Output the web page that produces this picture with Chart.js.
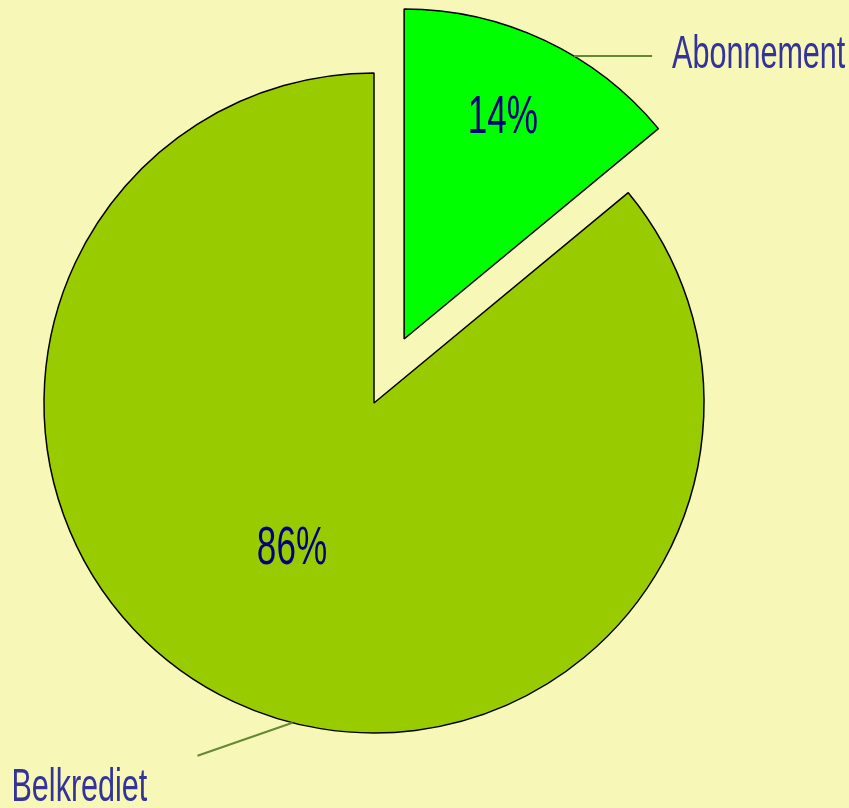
<!DOCTYPE html>
<html><head><meta charset="utf-8">
<style>html,body{margin:0;padding:0;background:#f7f7b8;overflow:hidden}canvas{display:block}</style>
<script src="https://cdn.jsdelivr.net/npm/chart.js@4"></script>
</head><body>
<canvas id="c" width="849" height="808"></canvas>
<script>
// ---- data ----
const categories = ['Abonnement', 'Belkrediet'];
const values = [14, 86];
const sliceColors = ['#00ff00', '#99cc00'];
const explode = [283, 0];

const DEG = Math.PI / 180;
const OFFSET_DIV = 4; // Chart.js v4 arc translates by offset/4
const FONT = '"Liberation Sans", Arial, sans-serif';
const XSCALE = 0.65;

function arcCenter(arc, i) {
  const mid = (arc.startAngle + arc.endAngle) / 2;
  const off = (explode[i] || 0) / OFFSET_DIV;
  return { x: arc.x + Math.cos(mid) * off, y: arc.y + Math.sin(mid) * off, mid };
}

// keep the exploded slice at the same radius and angle span as the rest of the pie
const radiusFix = {
  id: 'radiusFix',
  afterDatasetUpdate(chart, args) {
    args.meta.data.forEach((arc, i) => {
      arc.$baseR = arc.outerRadius;
      const off = (explode[i] || 0) / OFFSET_DIV;
      if (!off) return;
      const circ = arc.endAngle - arc.startAngle;
      const fix = 1 - Math.sin(Math.min(Math.PI, circ));
      const rOff = off * fix;
      arc.outerRadius = arc.$baseR - rOff;
      const ao = rOff / (Math.PI * arc.$baseR) / 2;
      arc.startAngle -= ao;
      arc.endAngle += ao;
    });
  }
};

function drawText(ctx, text, x, y, size, color, align) {
  ctx.save();
  ctx.translate(x, y);
  ctx.scale(XSCALE, 1);
  ctx.font = size + 'px ' + FONT;
  ctx.fillStyle = color;
  ctx.textAlign = align;
  ctx.textBaseline = 'alphabetic';
  ctx.fillText(text, 0, 0);
  ctx.restore();
}

const labelsPlugin = {
  id: 'labels',
  afterDatasetsDraw(chart) {
    const meta = chart.getDatasetMeta(0);
    const ctx = chart.ctx;
    const total = values.reduce((a, b) => a + b, 0);
    const pctPlace = [{ r: 0.745, da: -1.5 }, { r: 0.497, da: 4.8 }];
    const leader = [
      { a: 31, dx: 78, dy: 0, tx: 20, ty: 12 },
      { a: 194.3, dx: -95, dy: 33, tx: -186, ty: 45 }
    ];
    meta.data.forEach((arc, i) => {
      const c = arcCenter(arc, i);
      const R = arc.$baseR;
      const p = pctPlace[i];
      const ang = c.mid + p.da * DEG;
      const px = c.x + Math.cos(ang) * R * p.r;
      const py = c.y + Math.sin(ang) * R * p.r;
      drawText(ctx, Math.round(values[i] / total * 100) + '%', px, py + 19, 54, '#000080', 'center');

      const L = leader[i];
      const la = (L.a - 90) * DEG;
      const sx = c.x + Math.cos(la) * R, sy = c.y + Math.sin(la) * R;
      const ex = sx + L.dx, ey = sy + L.dy;
      ctx.save();
      ctx.strokeStyle = '#668833';
      ctx.lineWidth = 2;
      ctx.beginPath();
      ctx.moveTo(sx, sy);
      ctx.lineTo(ex, ey);
      ctx.stroke();
      ctx.restore();
      drawText(ctx, categories[i], ex + L.tx, ey + L.ty, 47, '#333399', 'left');
    });
  }
};

new Chart(document.getElementById('c'), {
  type: 'pie',
  data: {
    labels: categories,
    datasets: [{
      data: values,
      backgroundColor: sliceColors,
      borderColor: '#000000',
      borderWidth: 1.5,
      offset: explode,
      hoverOffset: 0,
      radius: 330
    }]
  },
  options: {
    responsive: false,
    animation: false,
    events: [],
    layout: { padding: { left: 0, right: 101, top: 0, bottom: 2 } },
    plugins: { legend: { display: false }, tooltip: { enabled: false } }
  },
  plugins: [radiusFix, labelsPlugin]
});
</script>
</body></html>
